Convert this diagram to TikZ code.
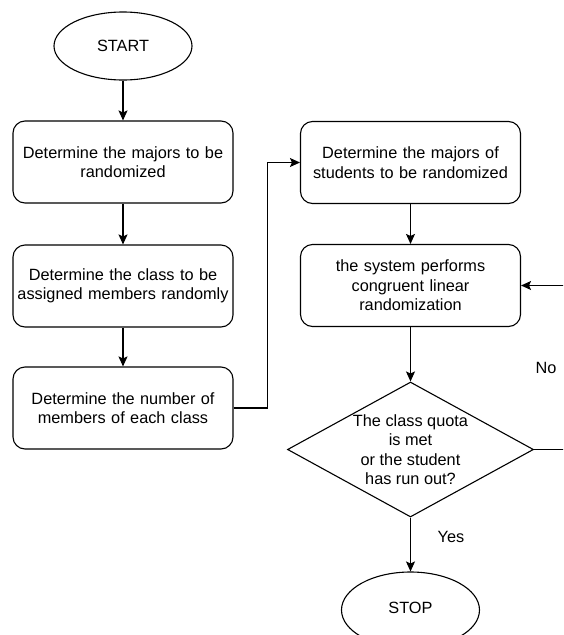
\documentclass[tikz,border=0pt]{standalone}
\usepackage{fontspec}
\setmainfont{Liberation Sans}
\usetikzlibrary{shapes.geometric,arrows.meta}
\begin{document}
\begin{tikzpicture}[x=1pt,y=-1pt,
  every node/.style={font=\fontsize{16.3}{19.5}\selectfont},
  proc/.style={draw,line width=1.1pt,rounded corners=12pt,minimum width=220pt,minimum height=82pt,inner sep=0pt,align=center,text width=212pt},
  term/.style={draw,line width=1.1pt,ellipse,minimum width=138pt,minimum height=68pt,inner sep=0pt},
  arr/.style={line width=1.1pt,-{Stealth[length=10pt,width=9pt,inset=2pt]}},
  ln/.style={line width=1.1pt}]
\clip (0,0) rectangle (563,635);
\useasboundingbox (0,0) rectangle (563,635);
\node[term] (start) at (123,46) {START};
\node[proc] (b1) at (123,162) {Determine the majors to be\\randomized};
\node[proc] (b2) at (123,286) {Determine the class to be\\assigned members randomly};
\node[proc] (b3) at (123,408) {Determine the number of\\members of each class};
\node[proc] (b4) at (410.5,162.5) {Determine the majors of\\students to be randomized};
\node[proc] (b5) at (410.5,285.5) {the system performs\\congruent linear\\randomization};
\node[draw,line width=1.1pt,diamond,minimum width=246pt,minimum height=135pt,inner sep=0pt] (dec) at (410.5,449.5) {};
\node[align=center,inner sep=0pt] (dect) at (dec.center) {The class quota\\is met\\or the student\\has run out?};
\node[term,minimum height=76pt] (stop) at (410.5,610) {};
\node (stopt) at (410.5,608) {STOP};
\node (no) at (546,368) {No};
\node (yes) at (451,537) {Yes};
\coordinate (fbr) at (580,449.5);
\draw[arr] (start) -- (b1);
\draw[arr] (b1) -- (b2);
\draw[arr] (b2) -- (b3);
\draw[arr] (b3.east) -- ++(34,0) |- (b4.west);
\draw[arr] (b4) -- (b5);
\draw[arr] (b5) -- (dec.north);
\draw[arr] (dec.south) -- (stop);
\draw[arr] (dec.east) -- (fbr) |- (b5.east);
\end{tikzpicture}
\end{document}
